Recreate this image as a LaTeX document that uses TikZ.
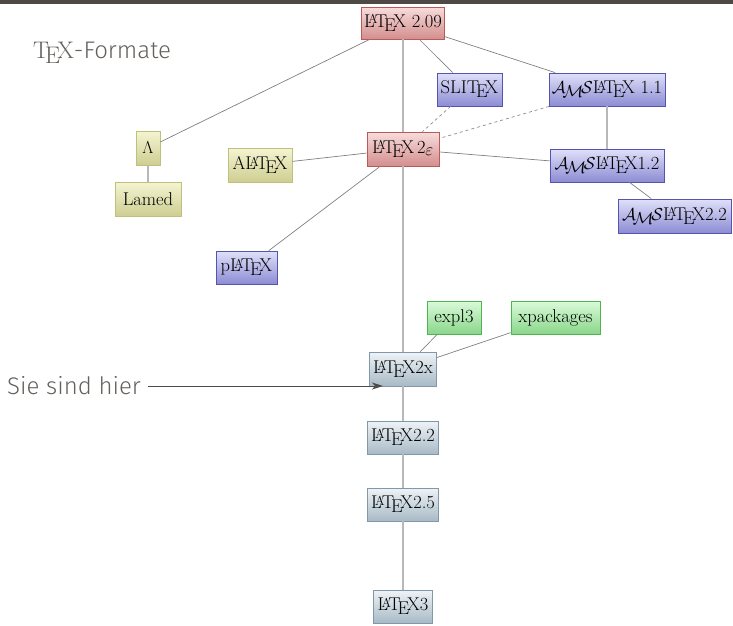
\documentclass[tikz,border=0pt]{standalone}
\usepackage{fontspec}
\newfontfamily\fira{Fira Sans}[UprightFont={* Light}]
\usetikzlibrary{arrows.meta}
\newcommand\myAmS{$\mathcal{A}$\kern-.1667em\lower.5ex\hbox{$\mathcal{M}$}\kern-.125em$\mathcal{S}$}
\definecolor{rtop}{RGB}{248,220,220}\definecolor{rbot}{RGB}{212,142,142}\definecolor{rdraw}{RGB}{185,90,90}
\definecolor{btop}{RGB}{224,224,250}\definecolor{bbot}{RGB}{140,140,212}\definecolor{bdraw}{RGB}{85,85,175}
\definecolor{otop}{RGB}{244,244,210}\definecolor{obot}{RGB}{206,206,146}\definecolor{odraw}{RGB}{192,192,125}
\definecolor{gtop}{RGB}{218,250,218}\definecolor{gbot}{RGB}{138,214,138}\definecolor{gdraw}{RGB}{80,180,80}
\definecolor{stop}{RGB}{238,243,247}\definecolor{sbot}{RGB}{168,186,198}\definecolor{sdraw}{RGB}{128,152,168}
\definecolor{bar}{RGB}{78,73,68}
\definecolor{labelgray}{RGB}{100,96,92}
\tikzset{
  fmt/.style={inner sep=0pt, minimum height=33pt, font=\fontsize{18.5}{21}\selectfont, line width=0.8pt},
  nred/.style={fmt, top color=rtop, bottom color=rbot, draw=rdraw},
  nblue/.style={fmt, top color=btop, bottom color=bbot, draw=bdraw},
  nolive/.style={fmt, top color=otop, bottom color=obot, draw=odraw},
  ngreen/.style={fmt, top color=gtop, bottom color=gbot, draw=gdraw},
  nsteel/.style={fmt, top color=stop, bottom color=sbot, draw=sdraw},
  derive/.style={draw=black!50, line width=0.7pt},
  succ/.style={draw=black!28, line width=1.6pt},
  dashline/.style={draw=black!45, line width=0.7pt, dashed},
  pointer/.style={draw=black!70, line width=0.9pt, -{Stealth[length=11pt,width=7pt,inset=3pt]}},
  lbl/.style={font=\fira\fontsize{24}{27}\selectfont, text=labelgray, inner sep=0pt}
}
\begin{document}
\begin{tikzpicture}[x=1pt,y=-1pt]
\useasboundingbox (0,0) rectangle (733,625);
\fill[bar] (0,0) rectangle (733,3.5);
\node[lbl, anchor=west] (title) at (33,53) {{\rmfamily\TeX}-Formate};
\node[lbl, anchor=west] (hier) at (7,386) {Sie sind hier};

\node[nred, minimum width=83pt, minimum height=32pt] (t209) at (403,23) {\LaTeX\ 2.09};
\node[nblue, minimum width=65pt] (slitex) at (469.5,89.5) {SLI\TeX};
\node[nblue, minimum width=116pt] (ams11) at (607,89.5) {\myAmS\LaTeX\ 1.1};
\node[nolive, minimum width=24pt, minimum height=34pt] (lambda) at (148,148) {$\Lambda$};
\node[nolive, minimum width=64pt, minimum height=34pt] (alatex) at (260,165) {A\LaTeX};
\node[nred, minimum width=72pt, minimum height=34pt] (t2e) at (403,149) {\LaTeX\kern.15em2$_{\textstyle\varepsilon}$};
\node[nblue, minimum width=114pt] (ams12) at (607,165.5) {\myAmS\LaTeX1.2};
\node[nolive, minimum width=66pt, minimum height=34pt] (lamed) at (148,199) {Lamed};
\node[nblue, minimum width=113pt, minimum height=34pt] (ams22) at (674.5,216) {\myAmS\LaTeX2.2};
\node[nblue, minimum width=61pt] (platex) at (246.5,267.5) {p\LaTeX};
\node[ngreen, minimum width=54pt] (expl) at (454,317.5) {expl3};
\node[ngreen, minimum width=89pt] (xpack) at (555.5,317.5) {xpackages};
\node[nsteel, minimum width=67pt, minimum height=34pt] (l2x) at (403,369) {\LaTeX2x};
\node[nsteel, minimum width=71pt] (l22) at (403,437.5) {\LaTeX2.2};
\node[nsteel, minimum width=71pt] (l25) at (403,504.5) {\LaTeX2.5};
\node[nsteel, minimum width=59pt] (l3) at (403,606.5) {\LaTeX3};

\draw[succ] (t209) -- (t2e);
\draw[succ] (t2e) -- (l2x);
\draw[succ] (l2x) -- (l22);
\draw[succ] (l22) -- (l25);
\draw[succ] (l25) -- (l3);
\draw[succ] (lambda) -- (lamed);
\draw[succ] (ams11) -- (ams12);

\draw[derive] (t209) -- (lambda);
\draw[derive] (t209) -- (slitex);
\draw[derive] (t209) -- (ams11);
\draw[derive] (alatex) -- (t2e);
\draw[derive] (t2e) -- (platex);
\draw[derive] (t2e) -- (ams12);
\draw[derive] (ams12) -- (ams22);
\draw[derive] (l2x) -- (expl);
\draw[derive] (l2x) -- (xpack);
\draw[dashline] (slitex) -- (t2e);
\draw[dashline] (ams11) -- (t2e);

\coordinate (here) at (383,386);
\coordinate (hstart) at (148,386);
\draw[pointer] (hstart) -- (here);
\end{tikzpicture}
\end{document}
